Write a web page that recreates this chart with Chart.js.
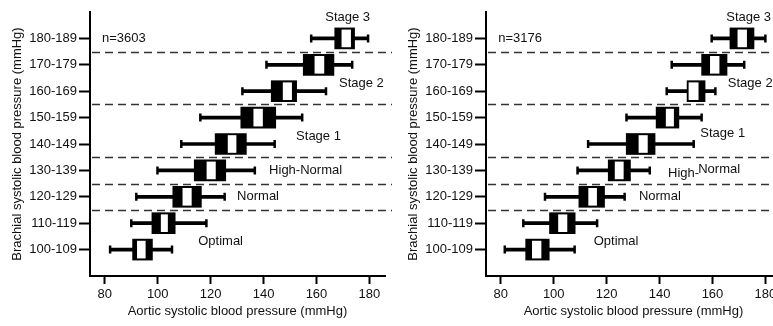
<!DOCTYPE html>
<html>
<head>
<meta charset="utf-8">
<script src="https://cdn.jsdelivr.net/npm/chart.js@4.4.0/dist/chart.umd.min.js"></script>
<style>
  html, body { margin: 0; padding: 0; background: #fff; }
  #wrap { position: relative; width: 773px; height: 326px; overflow: hidden; }
  #wrap canvas { position: absolute; top: 0; }
  #leftChart { left: 0; }
  #rightChart { left: 396px; }
</style>
</head>
<body>
<div id="wrap">
  <canvas id="leftChart" width="392" height="326"></canvas>
  <canvas id="rightChart" width="392" height="326"></canvas>
</div>
<script>
// brachial SBP bands, bottom to top
const categories = ['100-109', '110-119', '120-129', '130-139', '140-149', '150-159', '160-169', '170-179', '180-189'];
const xTicks = [80, 100, 120, 140, 160, 180];

// left panel (n=3603)
const leftWhiskerLow  = [82.0, 90.0, 91.9, 99.9, 108.9, 116.1, 132.0, 141.1, 158.0];
const leftBoxLow      = [90.5, 97.8, 105.7, 113.8, 121.7, 131.4, 142.9, 155.0, 166.9];
const leftMidLow      = [92.3, 101.3, 109.5, 118.6, 126.6, 136.3, 147.4, 159.4, 169.6];
const leftMidHigh     = [95.3, 103.7, 112.7, 121.8, 129.6, 139.6, 150.6, 162.8, 172.9];
const leftBoxHigh     = [98.0, 106.6, 116.5, 125.7, 133.5, 144.6, 152.5, 166.6, 174.4];
const leftWhiskerHigh = [105.4, 118.4, 125.3, 136.7, 144.2, 154.6, 163.6, 173.5, 179.5];

// right panel (n=3176)
const rightWhiskerLow  = [81.5, 88.5, 96.7, 109.0, 113.0, 127.5, 142.7, 144.6, 159.7];
const rightBoxLow      = [89.4, 98.4, 109.5, 120.6, 127.4, 138.7, 150.4, 155.9, 166.6];
const rightMidLow      = [91.9, 101.8, 113.2, 123.2, 132.2, 142.5, 151.1, 159.2, 169.6];
const rightMidHigh     = [95.2, 105.0, 116.2, 126.3, 135.4, 145.3, 154.6, 162.5, 172.9];
const rightBoxHigh     = [98.3, 108.1, 119.2, 129.0, 138.3, 147.3, 157.2, 165.5, 175.7];
const rightWhiskerHigh = [107.9, 116.4, 126.8, 136.3, 152.9, 155.9, 161.1, 172.0, 180.0];

// dashed separators between stages (rank: 1 = 100-109 ... 9 = 180-189)
const stageCuts = [2.5, 3.5, 4.5, 6.5, 8.5];

// text notes: [text, x value, rank]
const leftNotes = [
  ['n=3603', 78.9, 9.0],
  ['Stage 3', 163.3, 9.8],
  ['Stage 2', 168.5, 7.3],
  ['Stage 1', 152.3, 5.28],
  ['High-Normal', 142.1, 4.0],
  ['Normal', 130.0, 3.0],
  ['Optimal', 115.3, 1.3]
];
const rightNotes = [
  ['n=3176', 79.0, 9.0],
  ['Stage 3', 165.2, 9.8],
  ['Stage 2', 165.8, 7.3],
  ['Stage 1', 155.4, 5.4],
  ['High-', 143.2, 3.88],
  ['Normal', 154.6, 4.02],
  ['Normal', 132.2, 3.0],
  ['Optimal', 115.1, 1.3]
];

const fontFamily = '"Liberation Sans", Arial, sans-serif';
Chart.defaults.font.family = fontFamily;
Chart.defaults.font.size = 13;
Chart.defaults.color = '#111';

// top and bottom empty slots so the axis runs one band past each end
const yLabels = [''].concat(categories.slice().reverse(), ['']);

function rankToIndex(rank) {
  return categories.length + 1 - rank;
}

function pairs(lo, hi) {
  return yLabels.map(l => {
    const i = categories.indexOf(l);
    return i < 0 ? null : [lo[i], hi[i]];
  });
}

function makeOverlay(notes) {
  return {
    id: 'overlay',
    beforeDatasetsDraw(chart) {
      const { ctx, chartArea, scales } = chart;
      ctx.save();
      ctx.strokeStyle = '#333';
      ctx.lineWidth = 1.5;
      ctx.setLineDash([8, 5]);
      stageCuts.forEach(r => {
        const y = Math.round(scales.y.getPixelForValue(rankToIndex(r))) + 0.5;
        ctx.beginPath();
        ctx.moveTo(chartArea.left + 2, y);
        ctx.lineTo(chartArea.right + 10, y);
        ctx.stroke();
      });
      ctx.restore();
    },
    afterDatasetsDraw(chart) {
      const { ctx, scales } = chart;
      ctx.save();
      ctx.font = '13px ' + fontFamily;
      ctx.fillStyle = '#111';
      ctx.textAlign = 'left';
      ctx.textBaseline = 'middle';
      notes.forEach(([text, xv, rank]) => {
        ctx.fillText(text, scales.x.getPixelForValue(xv), scales.y.getPixelForValue(rankToIndex(rank)));
      });
      ctx.restore();
    }
  };
}

function drawPanel(canvasId, wLo, bLo, mLo, mHi, bHi, wHi, notes) {
  const caps = categories.map((c, i) => ({ x: wLo[i], y: c }))
    .concat(categories.map((c, i) => ({ x: wHi[i], y: c })));

  return new Chart(document.getElementById(canvasId), {
    type: 'bar',
    data: {
      labels: yLabels,
      datasets: [
        {
          type: 'scatter',
          data: caps,
          pointStyle: 'line',
          rotation: 90,
          pointRadius: 4,
          borderWidth: 2.5,
          borderColor: '#000',
          backgroundColor: '#000',
          order: 0
        },
        {
          data: pairs(mLo, mHi),
          backgroundColor: '#fff',
          barThickness: 17,
          grouped: false,
          order: 1
        },
        {
          data: pairs(bLo, bHi),
          backgroundColor: '#000',
          barThickness: 21,
          grouped: false,
          order: 2
        },
        {
          data: pairs(wLo, wHi),
          backgroundColor: '#000',
          barThickness: 3,
          grouped: false,
          order: 3
        }
      ]
    },
    options: {
      indexAxis: 'y',
      responsive: false,
      animation: false,
      events: [],
      layout: { padding: { top: 12, right: 7, left: 0, bottom: 0 } },
      plugins: { legend: { display: false }, tooltip: { enabled: false } },
      scales: {
        x: {
          type: 'linear',
          min: 74.4,
          max: 185.9,
          afterBuildTicks: scale => { scale.ticks = xTicks.map(v => ({ value: v })); },
          afterFit: scale => { scale.height = 50; },
          ticks: { includeBounds: false, padding: 3, color: '#111' },
          grid: { drawOnChartArea: false, tickLength: 8, tickWidth: 2, tickColor: '#000' },
          border: { color: '#000', width: 2 },
          title: {
            display: true,
            text: 'Aortic systolic blood pressure (mmHg)',
            color: '#111',
            padding: { top: 0, bottom: 7 }
          }
        },
        y: {
          type: 'category',
          offset: false,
          afterFit: scale => { scale.width = 90; },
          ticks: { padding: 2, color: '#111', autoSkip: false },
          grid: {
            offset: false,
            drawOnChartArea: false,
            tickLength: 11,
            tickWidth: 2,
            tickColor: ctx => (ctx.tick && ctx.tick.label ? '#000' : 'rgba(0,0,0,0)')
          },
          border: { color: '#000', width: 2 },
          title: {
            display: true,
            text: 'Brachial systolic blood pressure (mmHg)',
            color: '#111',
            padding: { top: 10, bottom: 0 }
          }
        }
      }
    },
    plugins: [makeOverlay(notes)]
  });
}

drawPanel('leftChart', leftWhiskerLow, leftBoxLow, leftMidLow, leftMidHigh, leftBoxHigh, leftWhiskerHigh, leftNotes);
drawPanel('rightChart', rightWhiskerLow, rightBoxLow, rightMidLow, rightMidHigh, rightBoxHigh, rightWhiskerHigh, rightNotes);
</script>
</body>
</html>
